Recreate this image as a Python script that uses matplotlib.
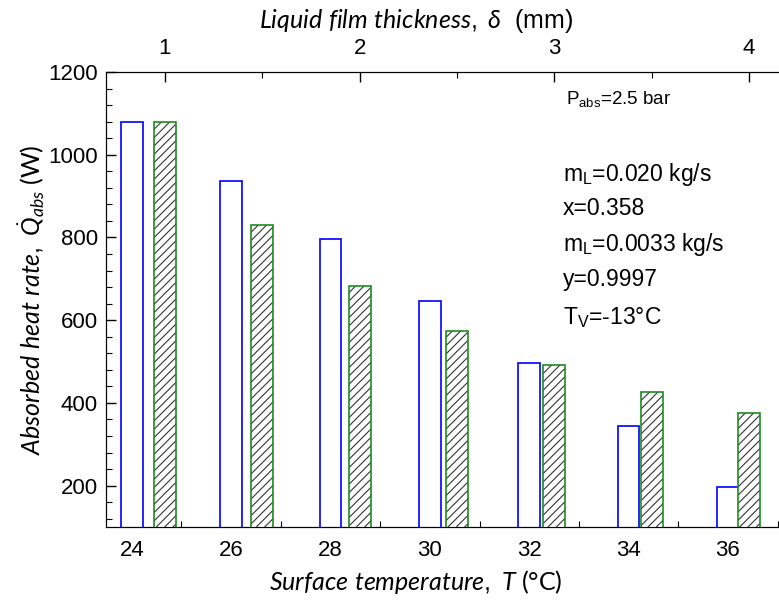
import matplotlib
matplotlib.use("Agg")
import matplotlib.pyplot as plt
from matplotlib.ticker import MultipleLocator

# surface temperature (bottom axis) and absorbed heat rate
temps = [24, 26, 28, 30, 32, 34, 36]
q_temp = [1080, 937, 796, 646, 497, 345, 196]

# liquid film thickness (top axis) and absorbed heat rate
delta = [1.0, 1.5, 2.0, 2.5, 3.0, 3.5, 4.0]
q_delta = [1080, 831, 682, 573, 492, 426, 375]

plt.rcParams["font.family"] = "Liberation Sans"
plt.rcParams["font.size"] = 16
plt.rcParams["mathtext.fontset"] = "custom"
plt.rcParams["mathtext.it"] = "Lato:italic"
plt.rcParams["mathtext.rm"] = "Liberation Sans"
plt.rcParams["hatch.linewidth"] = 0.8

fig = plt.figure(figsize=(7.79, 6.01), dpi=100)
ax = fig.add_axes([106 / 779, 74 / 601, 673 / 779, 455 / 601])

# bottom axis: bars vs temperature
ax.bar(temps, q_temp, width=0.44, facecolor="white",
       edgecolor="#0000ff", linewidth=1.2, zorder=2)
ax.set_xlim(23.48, 37.03)
ax.set_ylim(100, 1200)
ax.xaxis.set_major_locator(MultipleLocator(2))
ax.xaxis.set_minor_locator(MultipleLocator(1))
ax.yaxis.set_major_locator(MultipleLocator(200))
ax.yaxis.set_minor_locator(MultipleLocator(40))
ax.tick_params(which="both", direction="in", top=False, right=False,
               labelsize=16)
ax.tick_params(which="major", length=7, width=1)
ax.tick_params(which="minor", length=4, width=0.8)
ax.tick_params(axis="x", pad=9)
ax.tick_params(axis="y", pad=6)

ax.set_xlabel(r"$\mathit{Surface\ temperature,\ T}$ (°C)", fontsize=18,
              fontfamily="Lato")
ax.xaxis.set_label_coords(0.461, -0.09)
ax.set_ylabel(r"$\mathit{Absorbed\ heat\ rate,\ }\dot{\mathit{Q}}_{\mathit{abs}}$ (W)",
              fontsize=18, fontfamily="Lato", labelpad=1)

# top axis: bars vs film thickness (black hatching, green outline)
ax2 = ax.twiny()
ax2.bar(delta, q_delta, width=0.113, facecolor="white",
        edgecolor="#333333", linewidth=0, hatch="////", zorder=2)
ax2.bar(delta, q_delta, width=0.113, facecolor="none",
        edgecolor="#1e8c1e", linewidth=1.2, zorder=3)
ax2.set_xlim(0.697, 4.154)
ax2.xaxis.set_major_locator(MultipleLocator(1))
ax2.xaxis.set_minor_locator(MultipleLocator(0.5))
ax2.tick_params(which="both", direction="in", labelsize=16)
ax2.tick_params(which="major", length=7, width=1, pad=9)
ax2.tick_params(which="minor", length=4, width=0.8)
ax2.set_xlabel(r"$\mathit{Liquid\ film\ thickness,\ \delta}$  (mm)", fontsize=18)
ax2.xaxis.set_label_coords(0.461, 1.097)

for a in (ax, ax2):
    a.spines["right"].set_visible(False)

# operating conditions
txt = {"fontsize": 16.5, "transform": ax.transAxes, "va": "center"}
ax.text(0.683, 0.941, r"P$_{\mathrm{abs}}$=2.5 bar", fontsize=13.5,
        transform=ax.transAxes, va="center")
ax.text(0.679, 0.774, r"m$_{\mathrm{L}}$=0.020 kg/s", **txt)
ax.text(0.679, 0.699, "x=0.358", **txt)
ax.text(0.679, 0.620, r"m$_{\mathrm{L}}$=0.0033 kg/s", **txt)
ax.text(0.679, 0.545, "y=0.9997", **txt)
ax.text(0.679, 0.459, r"T$_{\mathrm{V}}$=-13°C", **txt)

fig.savefig("out.png", dpi=100)
